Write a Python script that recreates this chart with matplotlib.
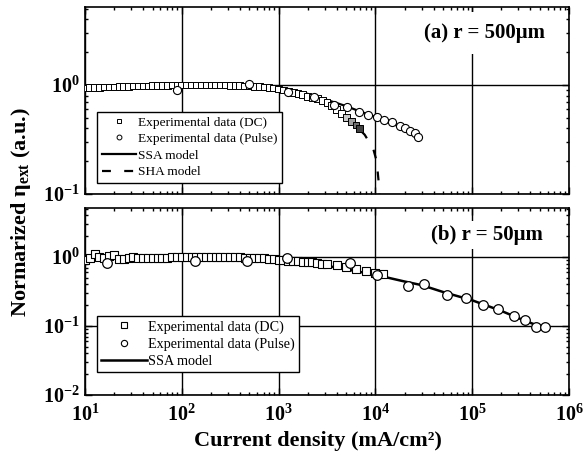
import numpy as np
import matplotlib
matplotlib.use("Agg")
import matplotlib.pyplot as plt
from matplotlib.ticker import FuncFormatter, LogLocator, NullFormatter

plt.rcParams['font.family'] = ['Liberation Serif', 'DejaVu Serif']
plt.rcParams['mathtext.fontset'] = 'custom'
plt.rcParams['mathtext.rm'] = 'Liberation Serif'
plt.rcParams['mathtext.bf'] = 'Liberation Serif:bold'
plt.rcParams['mathtext.it'] = 'Liberation Serif:italic'

# ---------------- Panel (a) r = 500 um ----------------
a_dc_x = [10, 11.2, 12.6, 14.1, 15.8, 17.8, 20, 22.4, 25.1, 28.2, 31.6, 35.5, 39.8, 44.7,
          50.1, 56.2, 63.1, 70.8, 79.4, 89.1, 100, 112, 126, 141, 158, 178, 200, 224, 251,
          282, 316, 355, 398, 447, 501, 562, 631, 708, 794, 891, 1000, 1122, 1259, 1413,
          1585, 1778, 1995, 2239, 2512, 2818, 3162, 3548, 3981, 4467, 5012, 5623, 6310, 6800]
a_dc_y = [0.94, 0.95, 0.95, 0.95, 0.96, 0.96, 0.96, 0.97, 0.97, 0.97, 0.98, 0.98, 0.98, 0.98,
          0.99, 0.99, 0.99, 0.99, 1.0, 1.0, 1.0, 1.0, 1.0, 1.0, 1.0, 1.0, 1.0, 1.0, 1.0,
          1.0, 0.99, 0.99, 0.99, 0.98, 0.98, 0.97, 0.97, 0.96, 0.95, 0.94, 0.92, 0.90, 0.88, 0.86,
          0.84, 0.82, 0.79, 0.77, 0.75, 0.72, 0.69, 0.65, 0.60, 0.55, 0.50, 0.46, 0.43, 0.40]
a_pulse_x = [89, 490, 1260, 2340, 3700, 5100, 6760, 8300, 10400, 12300, 14800, 17800,
             20400, 23000, 25700, 27500]
a_pulse_y = [0.90, 1.02, 0.86, 0.78, 0.65, 0.63, 0.57, 0.53, 0.51, 0.48, 0.46, 0.42,
             0.40, 0.38, 0.36, 0.33]
a_ssa_x = [10, 30, 100, 300, 1000, 2000, 3000, 5000, 7000, 10000, 15000, 20000, 27500]
a_ssa_y = [0.97, 0.99, 1.0, 0.99, 0.94, 0.83, 0.74, 0.64, 0.57, 0.51, 0.44, 0.40, 0.345]
a_sha_x = [10, 100, 300, 1000, 2000, 3000, 4500, 6000, 7750, 9500, 10300, 10800, 11000]
a_sha_y = [0.96, 1.0, 1.0, 0.93, 0.80, 0.69, 0.55, 0.44, 0.35, 0.26, 0.20, 0.13, 0.10]

# ---------------- Panel (b) r = 50 um ----------------
b_dc_x = [10, 11.2, 12.6, 14.1, 15.8, 17.8, 20, 22.4, 25.1, 28.2, 31.6, 35.5, 39.8, 44.7,
          50.1, 56.2, 63.1, 70.8, 79.4, 89.1, 100, 112, 126, 141, 158, 178, 200, 224, 251,
          282, 316, 355, 398, 447, 501, 562, 631, 708, 794, 891, 1000, 1122, 1259, 1413,
          1585, 1778, 1995, 2239, 2512, 2818, 3162, 3981, 5012, 6310, 7943, 10000, 12000]
b_dc_y = [0.90, 0.97, 1.10, 0.98, 0.95, 1.02, 1.05, 0.93, 0.92, 0.97, 1.0, 0.97, 0.96, 0.97,
          0.96, 0.97, 0.97, 0.97, 0.98, 0.98, 0.98, 0.98, 0.98, 0.98, 0.98, 0.98, 0.98, 0.98, 0.98,
          0.98, 0.98, 0.98, 0.98, 0.97, 0.97, 0.97, 0.96, 0.95, 0.94, 0.93, 0.91, 0.90, 0.88, 0.87,
          0.86, 0.85, 0.84, 0.83, 0.82, 0.80, 0.78, 0.75, 0.71, 0.66, 0.62, 0.59, 0.57]
b_pulse_x = [17, 137, 470, 1230, 5500, 10400, 21500, 31500, 55000, 87000, 130000, 185000,
             270000, 353000, 460000, 560000]
b_pulse_y = [0.82, 0.87, 0.87, 0.97, 0.82, 0.55, 0.38, 0.41, 0.28, 0.25, 0.20, 0.177,
             0.14, 0.122, 0.097, 0.097]
b_ssa_x = [10, 100, 300, 1000, 2000, 3000, 5000, 10000, 20000, 30000, 50000, 100000,
           200000, 300000, 500000, 600000]
b_ssa_y = [0.95, 0.96, 0.95, 0.88, 0.80, 0.75, 0.66, 0.55, 0.44, 0.39, 0.31, 0.235,
           0.165, 0.13, 0.098, 0.09]

xticks = [10, 100, 1000, 10000, 100000, 1000000]

W, H = 583, 461
fig = plt.figure(figsize=(W / 100, H / 100), dpi=100)
ax1 = fig.add_axes([85 / W, 1 - 194 / H, 484 / W, 187 / H])
ax2 = fig.add_axes([85 / W, 1 - 395 / H, 484 / W, 187 / H])

def logfmt(v, pos):
    e = int(round(np.log10(v)))
    return r'$\mathbf{10^{%d}}$' % e

for ax in (ax1, ax2):
    ax.set_xscale('log')
    ax.set_yscale('log')
    ax.set_xlim(10, 1e6)
    ax.set_xticks(xticks)
    ax.xaxis.set_minor_locator(LogLocator(base=10, subs=np.arange(2, 10), numticks=20))
    ax.yaxis.set_minor_locator(LogLocator(base=10, subs=np.arange(2, 10), numticks=20))
    ax.xaxis.set_minor_formatter(NullFormatter())
    ax.yaxis.set_minor_formatter(NullFormatter())
    ax.xaxis.set_major_formatter(FuncFormatter(logfmt))
    ax.yaxis.set_major_formatter(FuncFormatter(logfmt))
    ax.tick_params(which='both', direction='in', top=True, right=True, width=1.0)
    ax.tick_params(which='major', length=5, labelsize=14.5)
    ax.tick_params(axis='x', which='major', pad=7)
    ax.tick_params(axis='y', which='major', pad=4)
    ax.tick_params(which='minor', length=2.5)
    ax.grid(True, which='major', color='black', linewidth=1.0)
    ax.set_axisbelow(True)
    for s in ax.spines.values():
        s.set_linewidth(1.2)

ax1.set_ylim(0.1, 5.2)
ax1.set_yticks([0.1, 1])
ax1.tick_params(axis='x', labelbottom=False)
ax2.set_ylim(0.01, 5.1)
ax2.set_yticks([0.01, 0.1, 1])

# Panel a
ax1.plot(a_ssa_x, a_ssa_y, color='black', lw=1.6, zorder=3)
ax1.plot(a_sha_x, a_sha_y, color='black', lw=1.6, ls=(0, (4, 6)), zorder=3)
fc = ['white'] * (len(a_dc_x) - 4) + ['#c8c8c8', '#a0a0a0', '#707070', '#404040']
ax1.scatter(a_dc_x, a_dc_y, marker='s', s=24, facecolors=fc, edgecolors='black',
            linewidths=0.7, zorder=4)
ax1.scatter(a_pulse_x, a_pulse_y, marker='o', s=34, facecolors='white', edgecolors='black',
            linewidths=0.8, zorder=5)
h_dc = ax1.plot([], [], ls='none', marker='s', ms=3, mfc='white', mec='black', mew=0.7)[0]
h_pu = ax1.plot([], [], ls='none', marker='o', ms=3.5, mfc='white', mec='black', mew=0.7)[0]
h_ssa, h_sha = ax1.lines[0], ax1.lines[1]
leg1 = ax1.legend([h_dc, h_pu, h_ssa, h_sha],
                  ['Experimental data (DC)', 'Experimental data (Pulse)', 'SSA model', 'SHA model'],
                  loc='lower left', bbox_to_anchor=(0.025, 0.059), fontsize=9.6,
                  frameon=True, fancybox=False, edgecolor='black', framealpha=1,
                  handlelength=2.6, handletextpad=0.1, labelspacing=0.32, borderpad=0.35,
                  borderaxespad=0)
leg1.get_frame().set_linewidth(1.0)
ax1.text(0.95, 0.86, '(a) r = 500μm', transform=ax1.transAxes, ha='right', va='center',
         fontsize=15, fontweight='bold', zorder=6,
         bbox=dict(facecolor='white', edgecolor='none', pad=8))

# Panel b
ax2.plot(b_ssa_x, b_ssa_y, color='black', lw=1.8, zorder=3)
ax2.scatter(b_dc_x, b_dc_y, marker='s', s=30, facecolors='white', edgecolors='black',
            linewidths=0.8, zorder=4)
ax2.scatter(b_pulse_x, b_pulse_y, marker='o', s=48, facecolors='white', edgecolors='black',
            linewidths=0.9, zorder=5)
g_dc = ax2.plot([], [], ls='none', marker='s', ms=4, mfc='white', mec='black', mew=0.8)[0]
g_pu = ax2.plot([], [], ls='none', marker='o', ms=4.5, mfc='white', mec='black', mew=0.8)[0]
g_ssa = ax2.lines[0]
leg2 = ax2.legend([g_dc, g_pu, g_ssa],
                  ['Experimental data (DC)', 'Experimental data (Pulse)', 'SSA model'],
                  loc='lower left', bbox_to_anchor=(0.025, 0.123), fontsize=10.2,
                  frameon=True, fancybox=False, edgecolor='black', framealpha=1,
                  handlelength=3.2, handletextpad=0.12, labelspacing=0.27, borderpad=0.3,
                  borderaxespad=0)
leg2.get_frame().set_linewidth(1.0)
ax2.text(0.945, 0.856, '(b) r = 50μm', transform=ax2.transAxes, ha='right', va='center',
         fontsize=15, fontweight='bold', zorder=6,
         bbox=dict(facecolor='white', edgecolor='none', pad=3))

fig.text(21 / W, 1 - 212 / H, r'Normarized η$_{\mathbf{ext}}$ (a.u.)', rotation=90,
         ha='center', va='center', fontsize=16, fontweight='bold')
fig.text(318 / W, 1 - 441 / H, 'Current density (mA/cm²)', ha='center', va='center',
         fontsize=16, fontweight='bold')

fig.savefig('out.png', dpi=100)
